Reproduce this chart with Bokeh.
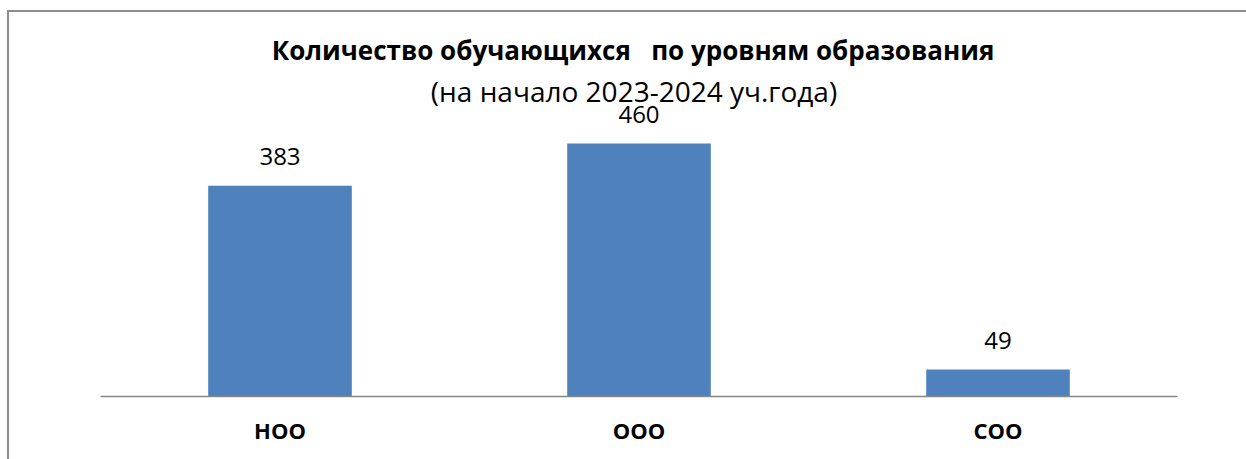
from bokeh.plotting import figure
from bokeh.layouts import column
from bokeh.models import FactorRange, Range1d, Label
from bokeh.core.properties import value
from bokeh.embed import file_html
from bokeh.resources import INLINE

categories = ["НОО", "ООО", "СОО"]
counts = [383, 460, 49]
count_labels = [str(v) for v in counts]
title_text = "Количество обучающихся\u00a0\u00a0 по уровням образования"
subtitle_text = "(на начало 2023-2024 уч.года)"

FONT = "Open Sans"
BORDER = "2px solid #8c8c8c"

W, H = 1239, 450
left, right, top, bottom = 91, 71, 0, 66
frame_h = H - top - bottom
px_per_unit = 0.55

p = figure(
    width=W, height=H,
    x_range=FactorRange(factors=categories, range_padding=0),
    y_range=Range1d(0, frame_h / px_per_unit),
    output_backend="svg", toolbar_location=None,
    min_border_left=left, min_border_right=right,
    min_border_top=top, min_border_bottom=bottom,
    styles={"border-top": BORDER, "border-left": BORDER},
)
p.outline_line_color = None
p.xgrid.visible = False
p.ygrid.visible = False
p.yaxis.visible = False

p.vbar(x=categories, top=counts, width=0.4, color="#4F81BD", line_color=None)
p.text(x=categories, y=counts, text=count_labels, text_align="center",
       text_baseline="alphabetic", y_offset=-29,
       text_font=value(FONT), text_font_size="24px", text_color="#000000")

ax = p.xaxis[0]
ax.axis_line_color = "#868686"
ax.axis_line_width = 1.5
ax.major_tick_line_color = None
ax.minor_tick_line_color = None
ax.major_tick_out = 0
ax.major_tick_in = 0
ax.minor_tick_out = 0
ax.minor_tick_in = 0
ax.major_label_standoff = 18
ax.major_label_text_font = FONT
ax.major_label_text_font_style = "bold"
ax.major_label_text_font_size = "22px"
ax.major_label_text_color = "#000000"

# vertical placement of the headings: pixels above the baseline (axis line)
title_rise, subtitle_rise = 347, 306
p.add_layout(Label(x=1.5, y=title_rise / px_per_unit, x_offset=-6, text=title_text,
                   text_align="center", text_baseline="middle", text_font=FONT,
                   text_font_style="bold", text_font_size="26px", text_color="#000000"))
p.add_layout(Label(x=1.5, y=subtitle_rise / px_per_unit, x_offset=-5, text=subtitle_text,
                   text_align="center", text_baseline="middle", text_font=FONT,
                   text_font_size="28px", text_color="#000000"))

layout = column(p, styles={"padding-left": "7px", "padding-top": "10px"})

open("out.html", "w").write(file_html(layout, INLINE))
